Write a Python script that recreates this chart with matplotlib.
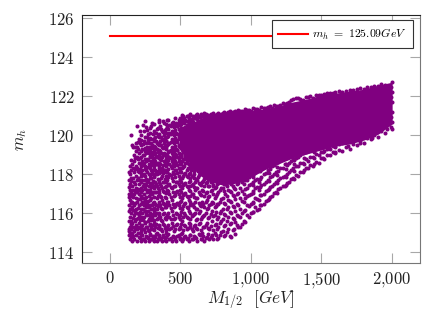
import numpy as np
import matplotlib
matplotlib.use('Agg')
import matplotlib.pyplot as plt

plt.rcParams['font.family'] = ['cmr10', 'DejaVu Serif']
plt.rcParams['mathtext.fontset'] = 'cm'
plt.rcParams['axes.formatter.use_mathtext'] = True

PURPLE = '#800080'

# reference line
line_x = [0, 2000]
line_y = [125.09, 125.09]

# saturated part of the cloud, read as lower / upper limit per M_1/2
core_x = [500, 540, 590, 640, 700, 800, 900, 1000, 1100, 1200, 1300, 1400, 1500, 1600, 1700, 1800, 1900, 1995]
core_lo = [119.3, 118.9, 118.4, 118.0, 117.7, 117.5, 117.6, 117.9, 118.3, 118.6, 118.9, 119.1, 119.3, 119.5, 119.6, 119.8, 120.1, 120.6]
core_hi = [119.9, 120.3, 120.6, 120.8, 120.95, 121.05, 121.1, 121.2, 121.3, 121.45, 121.65, 121.8, 122.0, 122.1, 122.2, 122.3, 122.5, 122.65]

# open part of the cloud, one list of m_h per M_1/2 column
cloud_x = [135, 145, 152, 160, 172, 185, 193, 205, 218, 230, 242, 252, 264, 275, 287, 299, 310, 322, 333, 345,
           358, 370, 382, 395, 407, 420, 441, 455, 470, 487, 500, 512, 528, 545, 560, 571, 590, 605, 620, 640,
           655, 670, 690, 705, 725, 745, 760, 780, 800, 820, 840, 860, 880, 900, 925, 950, 975, 1000, 1030, 1060,
           1090, 1120, 1150, 1180, 1210, 1240, 1270, 1300, 1335, 1370, 1405, 1440, 1480, 1520, 1560, 1600, 1650, 1700, 1750, 1800,
           1850, 1900, 1950, 2000]
cloud_y = [
    [114.9, 115.1, 116.4, 117.0, 117.7],
    [114.7, 115.0, 115.3, 115.8, 116.2, 116.7, 117.2, 117.5, 118.0, 118.4],
    [114.8, 115.2, 115.6, 116.0, 116.9, 117.8, 118.2, 120.0],
    [114.6, 115.0, 115.5, 116.3, 116.6, 117.4, 118.5, 119.5],
    [114.7, 115.1, 115.9, 116.4, 117.0, 117.6, 118.1, 118.7, 119.0],
    [114.9, 115.4, 115.7, 116.2, 116.8, 117.3, 117.9, 118.4, 119.2, 119.6],
    [114.6, 115.2, 116.0, 116.6, 117.1, 117.7, 118.3, 118.9, 119.4, 120.47],
    [114.8, 115.5, 115.9, 116.4, 117.0, 117.5, 118.1, 118.6, 119.1, 119.8],
    [114.6, 115.1, 115.7, 116.2, 116.9, 117.3, 117.9, 118.4, 118.9, 119.5, 120.0],
    [114.9, 115.4, 116.0, 116.6, 117.2, 117.7, 118.2, 118.7, 119.3],
    [114.7, 115.2, 115.8, 116.4, 117.0, 117.5, 118.0, 118.6, 119.0, 119.7, 120.2],
    [114.6, 115.5, 116.1, 116.7, 117.3, 117.9, 118.4, 119.2, 120.74],
    [114.8, 115.3, 115.9, 116.5, 117.1, 117.6, 118.1, 118.8, 119.4, 119.9, 120.27],
    [114.6, 115.1, 115.7, 116.3, 116.9, 117.4, 118.0, 118.5, 119.1, 119.6],
    [114.9, 115.4, 116.0, 116.7, 117.2, 117.8, 118.3, 118.9, 119.3, 119.8, 120.1],
    [114.7, 115.2, 115.8, 116.4, 117.0, 117.5, 118.1, 118.6, 119.0, 119.5, 120.6],
    [114.6, 115.5, 116.1, 116.6, 117.3, 117.9, 118.4, 118.8, 119.2, 119.7, 120.2],
    [114.8, 115.3, 115.9, 116.5, 117.1, 117.6, 118.2, 118.7, 119.1, 119.4, 119.9],
    [114.6, 115.0, 115.7, 116.2, 116.8, 117.4, 118.0, 118.5, 118.9, 119.3, 119.6, 120.3],
    [114.9, 115.4, 116.0, 116.6, 117.2, 117.7, 118.3, 118.6, 119.0, 119.5, 119.9, 120.8],
    [114.7, 115.2, 115.8, 116.4, 116.9, 117.5, 118.1, 118.5, 118.8, 119.2, 119.7, 120.47],
    [114.6, 115.1, 115.6, 116.2, 116.7, 117.3, 117.9, 118.3, 118.9, 119.4, 119.8, 120.2],
    [114.8, 115.4, 116.0, 116.5, 117.1, 117.6, 118.2, 118.7, 119.1, 119.6, 120.0, 120.6],
    [114.6, 115.0, 115.7, 116.3, 116.8, 117.4, 117.9, 118.4, 118.8, 119.3, 119.7, 120.3],
    [114.9, 115.3, 115.9, 116.6, 117.2, 117.7, 118.1, 118.6, 119.0, 119.5, 119.9, 120.4, 120.8],
    [114.7, 115.2, 115.8, 116.4, 117.0, 117.5, 118.0, 118.5, 118.9, 119.2, 119.6, 120.1, 120.5],
    [114.6, 115.5, 116.1, 116.7, 117.3, 117.8, 118.3, 118.7, 119.1, 119.4, 119.8, 120.2, 120.64],
    [114.8, 115.1, 115.7, 116.3, 116.9, 117.4, 118.0, 118.4, 118.8, 119.2, 119.6, 120.0, 120.4],
    [114.6, 115.4, 116.0, 116.5, 117.1, 117.6, 118.2, 118.6, 119.0, 119.3, 119.7, 120.1, 120.6],
    [114.9, 115.2, 115.8, 116.4, 117.0, 117.5, 117.9, 118.3, 118.7, 119.1, 119.5, 119.9, 120.3, 120.8],
    [114.7, 115.3, 115.9, 116.6, 117.2, 117.7, 118.1, 118.5, 118.9, 120.0, 120.5, 120.9],
    [114.6, 115.0, 115.6, 116.2, 116.8, 117.3, 117.8, 118.3, 118.7, 120.2, 120.7, 121.03],
    [114.8, 115.4, 116.0, 116.5, 117.0, 117.5, 118.0, 118.4, 118.8, 120.1, 120.6, 120.9],
    [114.7, 115.2, 115.8, 116.3, 116.9, 117.4, 117.9, 118.2, 120.5, 121.0],
    [114.6, 115.5, 116.1, 116.7, 117.2, 117.6, 118.0, 120.6, 120.9],
    [114.9, 115.3, 115.7, 116.4, 116.9, 117.4, 117.8, 120.8, 121.08],
    [114.7, 115.1, 115.9, 116.5, 117.0, 117.5, 117.9, 120.7, 121.0],
    [114.8, 115.4, 116.0, 116.6, 117.2, 117.6, 120.9],
    [114.6, 115.2, 115.7, 116.2, 116.8, 117.3, 117.7, 120.85, 121.1],
    [114.9, 115.5, 116.1, 116.4, 117.0, 117.5, 120.95],
    [114.7, 115.0, 115.8, 116.6, 117.2, 117.6, 121.0],
    [114.6, 115.3, 115.9, 116.3, 116.9, 117.4, 120.9, 121.15],
    [114.8, 115.5, 116.2, 116.7, 117.1, 117.6, 121.0],
    [114.7, 115.2, 115.8, 116.4, 116.9, 117.4, 120.95],
    [114.9, 115.6, 116.1, 116.6, 117.2, 117.6, 121.05],
    [115.0, 115.4, 115.9, 116.3, 116.8, 117.3, 121.0],
    [114.7, 115.2, 115.7, 116.5, 117.0, 117.5, 121.1],
    [114.9, 115.5, 116.0, 116.6, 117.2, 117.6, 121.05],
    [115.1, 115.7, 116.2, 116.8, 117.3, 117.6, 121.15],
    [114.9, 115.4, 115.9, 116.5, 117.0, 117.5, 121.1],
    [115.2, 115.8, 116.3, 116.7, 117.2, 117.6, 121.2],
    [114.8, 115.5, 116.0, 116.6, 117.1, 117.5, 121.15],
    [115.2, 115.7, 116.3, 116.9, 117.3, 117.7, 121.2],
    [115.4, 115.9, 116.5, 117.0, 117.5, 121.2],
    [115.3, 115.8, 116.2, 116.8, 117.3, 117.7, 121.25],
    [115.6, 116.1, 116.6, 117.0, 117.5, 121.2],
    [115.9, 116.4, 116.9, 117.3, 117.7, 121.3],
    [116.0, 116.5, 117.0, 117.5, 118.0, 121.25],
    [116.3, 116.8, 117.3, 117.7, 118.1, 121.35],
    [116.2, 116.7, 117.2, 117.6, 118.3, 121.3],
    [116.5, 117.0, 117.5, 118.0, 118.5, 121.4],
    [116.7, 117.2, 117.7, 118.2, 118.7, 121.45],
    [116.9, 117.4, 117.9, 118.4, 118.9, 121.4],
    [117.1, 117.6, 118.1, 118.6, 119.0, 121.5],
    [117.3, 117.8, 118.3, 118.8, 119.2, 121.55],
    [117.4, 117.9, 118.5, 119.0, 121.6],
    [117.6, 118.1, 118.6, 119.1, 121.7],
    [117.8, 118.3, 118.8, 119.3, 121.85],
    [117.9, 118.4, 118.9, 119.4, 121.9],
    [118.1, 118.6, 119.1, 119.5, 121.8],
    [118.3, 118.7, 119.2, 121.95],
    [118.4, 118.9, 119.3, 121.9],
    [118.6, 119.0, 119.5, 122.05],
    [118.8, 119.2, 119.5, 122.1],
    [119.0, 119.3, 119.6, 122.15],
    [119.1, 119.4, 122.2],
    [119.2, 119.6, 122.2],
    [119.3, 119.7, 122.3],
    [119.5, 119.9, 122.35],
    [119.6, 119.9, 122.35],
    [119.8, 120.1, 122.45],
    [119.9, 120.2, 122.5],
    [120.1, 120.5, 122.55],
    [120.3, 120.7, 121.2, 121.7, 122.2, 122.7],
]

# second pass over the same cloud, points that sit between the first columns
extra_x = [139, 149, 166, 178, 199, 211, 224, 236, 247, 258, 270, 281, 293, 304, 316, 327, 339, 351, 364, 376,
           389, 401, 414, 431, 448, 462, 478, 494, 506, 520, 536, 552, 566, 581, 598, 612, 630, 648, 662, 680,
           698, 715, 735, 752, 770, 790, 810, 830, 850, 870, 890, 912, 938, 962, 988, 1015, 1045, 1075, 1105, 1135,
           1165, 1195, 1225, 1255, 1285, 1318, 1352, 1388, 1422, 1460, 1500, 1540, 1580, 1625, 1675, 1725, 1775, 1825, 1875, 1925]
extra_y = [
    [115.22, 115.63, 116.13, 116.85, 117.37, 118.14],
    [114.88, 115.47, 116.52, 117.06, 117.66, 118.71],
    [114.82, 115.28, 115.74, 116.18, 116.83, 117.21, 117.83, 118.32, 119.37],
    [115.23, 115.58, 116.07, 116.55, 117.14, 117.48, 118.26, 118.84, 119.41],
    [114.97, 115.31, 115.78, 116.27, 116.71, 117.24, 117.83, 118.19, 118.77, 119.28, 119.65],
    [114.71, 115.24, 115.65, 116.09, 116.73, 117.17, 117.72, 118.29, 118.81, 119.62, 120.21],
    [114.92, 115.37, 115.83, 116.47, 117.09, 117.61, 118.06, 118.53, 119.18, 119.77],
    [114.67, 115.21, 115.66, 116.23, 116.79, 117.38, 117.98, 118.46, 118.97, 119.54, 120.52],
    [115.02, 115.53, 116.12, 116.58, 117.23, 117.69, 118.27, 118.76, 119.36, 119.93],
    [114.84, 115.28, 115.94, 116.33, 116.82, 117.44, 117.76, 118.21, 118.67, 119.08, 119.58, 120.41],
    [114.73, 115.16, 115.62, 116.14, 116.63, 117.18, 117.71, 118.37, 118.71, 119.26, 119.73, 120.06],
    [114.95, 115.43, 115.84, 116.42, 117.03, 117.56, 117.96, 118.44, 118.93, 119.42, 119.88, 120.38],
    [114.66, 115.27, 115.68, 116.21, 116.77, 117.33, 117.82, 118.22, 118.68, 119.13, 119.62, 120.46],
    [114.86, 115.38, 115.97, 116.52, 117.11, 117.63, 118.03, 118.47, 118.85, 119.36, 119.78, 120.05],
    [114.74, 115.15, 115.64, 116.28, 116.86, 117.41, 117.84, 118.28, 118.62, 119.03, 119.46, 119.83, 120.57],
    [114.93, 115.46, 116.04, 116.43, 117.07, 117.52, 118.07, 118.52, 118.94, 119.27, 119.68, 120.12],
    [114.68, 115.23, 115.76, 116.36, 116.91, 117.29, 117.74, 118.16, 118.57, 119.12, 119.55, 119.94, 120.37],
    [114.83, 115.36, 115.92, 116.47, 117.03, 117.58, 118.04, 118.42, 118.83, 119.23, 119.62, 120.08, 120.66],
    [114.72, 115.18, 115.67, 116.29, 116.84, 117.42, 117.83, 118.24, 118.72, 119.07, 119.52, 119.93, 120.33],
    [114.88, 115.44, 115.96, 116.53, 117.13, 117.59, 118.06, 118.48, 118.97, 119.33, 119.76, 120.17, 120.72],
    [114.65, 115.27, 115.74, 116.32, 116.86, 117.34, 117.77, 118.22, 118.63, 119.04, 119.44, 119.86, 120.26],
    [114.79, 115.14, 115.83, 116.44, 117.06, 117.61, 118.09, 118.53, 118.92, 119.37, 119.72, 120.13, 120.56],
    [114.94, 115.41, 116.02, 116.56, 117.16, 117.46, 117.86, 118.27, 118.74, 119.16, 119.57, 119.94, 120.34, 120.76],
    [114.71, 115.23, 115.69, 116.27, 116.83, 117.37, 117.96, 118.43, 118.84, 119.26, 119.66, 120.07, 120.46],
    [114.86, 115.37, 115.91, 116.47, 117.08, 117.63, 118.13, 118.57, 118.96, 119.35, 119.74, 120.16, 120.67],
    [114.67, 115.19, 115.78, 116.36, 116.94, 117.42, 117.86, 118.24, 118.66, 119.05, 119.47, 119.86, 120.27, 120.86],
    [114.83, 115.44, 115.96, 116.54, 117.14, 117.58, 118.05, 118.49, 118.86, 119.24, 119.64, 120.04, 120.47],
    [114.74, 115.26, 115.72, 116.29, 116.86, 117.39, 117.76, 118.17, 118.62, 118.98, 119.41, 119.83, 120.22, 120.71],
    [114.92, 115.47, 116.07, 116.63, 117.11, 117.62, 118.12, 118.54, 118.93, 119.58, 120.36, 120.83],
    [114.68, 115.16, 115.82, 116.37, 116.96, 117.46, 117.92, 118.37, 118.76, 119.31, 120.14, 120.96],
    [114.86, 115.33, 115.93, 116.53, 117.06, 117.57, 118.06, 118.56, 118.96, 120.27, 120.78],
    [114.72, 115.27, 115.74, 116.27, 116.84, 117.36, 117.84, 118.32, 120.43, 120.98],
    [114.91, 115.43, 116.02, 116.58, 117.14, 117.63, 118.08, 118.47, 120.62, 121.02],
    [114.66, 115.18, 115.84, 116.43, 116.97, 117.47, 117.93, 118.36, 120.76],
    [114.83, 115.36, 115.96, 116.34, 116.86, 117.34, 117.83, 118.18, 120.92],
    [114.75, 115.24, 115.67, 116.24, 116.76, 117.27, 117.74, 121.03],
    [114.93, 115.47, 116.03, 116.53, 117.07, 117.56, 117.97, 120.98],
    [114.68, 115.14, 115.73, 116.36, 116.94, 117.44, 121.06],
    [114.86, 115.32, 115.88, 116.47, 117.12, 117.64, 120.97],
    [114.72, 115.42, 116.04, 116.57, 117.03, 117.53, 121.1],
    [114.94, 115.26, 115.76, 116.28, 116.84, 117.38, 117.76, 121.02],
    [114.77, 115.33, 115.96, 116.46, 117.13, 117.62, 121.08],
    [114.66, 115.17, 115.86, 116.52, 116.97, 117.47, 121.12],
    [114.88, 115.45, 116.06, 116.36, 116.89, 117.36, 117.68, 121.04],
    [114.73, 115.29, 115.83, 116.46, 117.08, 117.57, 121.13],
    [115.03, 115.58, 116.14, 116.72, 117.27, 117.71, 121.09],
    [114.86, 115.34, 115.97, 116.54, 117.14, 117.52, 121.18],
    [115.06, 115.62, 116.23, 116.88, 117.38, 117.72, 121.14],
    [114.83, 115.47, 116.07, 116.62, 117.16, 117.62, 121.22],
    [115.13, 115.74, 116.37, 116.94, 117.42, 117.83, 121.19],
    [114.96, 115.56, 116.12, 116.73, 117.26, 117.68, 121.23],
    [115.28, 115.84, 116.44, 117.03, 117.56, 117.92, 121.27],
    [115.47, 116.03, 116.64, 117.14, 117.62, 118.03, 121.24],
    [115.56, 116.16, 116.76, 117.23, 117.73, 118.12, 121.32],
    [115.83, 116.36, 116.92, 117.44, 117.86, 118.27, 121.28],
    [116.07, 116.58, 117.12, 117.58, 117.96, 118.36, 121.37],
    [116.18, 116.74, 117.34, 117.78, 118.22, 118.56, 121.33],
    [116.42, 116.94, 117.44, 117.88, 118.34, 118.72, 121.42],
    [116.62, 117.13, 117.62, 118.07, 118.46, 118.83, 121.38],
    [116.84, 117.33, 117.84, 118.27, 118.66, 119.02, 121.47],
    [117.03, 117.52, 118.02, 118.47, 118.82, 119.13, 121.53],
    [117.23, 117.72, 118.17, 118.62, 118.97, 119.24, 121.5],
    [117.38, 117.87, 118.34, 118.77, 119.12, 121.63],
    [117.56, 118.02, 118.47, 118.92, 119.26, 121.66],
    [117.74, 118.23, 118.68, 119.07, 119.38, 121.8],
    [117.96, 118.42, 118.83, 119.23, 121.88],
    [118.13, 118.57, 118.96, 119.33, 121.84],
    [118.33, 118.76, 119.14, 119.47, 121.97],
    [118.48, 118.88, 119.26, 122.02],
    [118.63, 119.02, 119.37, 122.08],
    [118.83, 119.16, 119.47, 122.06],
    [118.97, 119.27, 119.56, 122.14],
    [119.12, 119.43, 122.17],
    [119.23, 119.56, 122.24],
    [119.41, 119.73, 122.28],
    [119.57, 119.84, 122.33],
    [119.68, 119.97, 122.41],
    [119.84, 120.16, 122.46],
    [120.03, 120.37, 122.52],
    [120.22, 120.58, 122.62],
]

# third pass, around the saturated part and along the lower right edge
gap_x = [452, 476, 492, 505, 518, 533, 548, 563, 578, 595, 625, 668, 728, 1012, 1068, 1128, 1188, 1248, 1308, 1376,
         1448, 1512, 1598, 1688, 1772, 1862, 1968, 1992]
gap_y = [
    [118.95, 119.65, 120.55],
    [119.25, 119.75, 120.45],
    [118.85, 119.45, 120.05, 120.65],
    [119.05, 119.95, 120.15, 118.95, 120.55],
    [119.2, 119.55, 119.85, 120.35, 120.85],
    [118.85, 119.15, 119.5, 120.0, 120.4],
    [118.6, 118.75, 120.45, 120.75],
    [118.3, 118.55, 118.8, 120.5, 120.7],
    [118.2, 118.5, 120.65, 120.85],
    [118.0, 118.3, 120.9],
    [117.85, 118.15, 120.95],
    [117.75, 117.95, 121.02],
    [117.42, 117.66, 121.08],
    [116.05, 116.55, 117.05, 117.45, 117.88],
    [116.45, 116.95, 117.35, 117.75, 118.15],
    [116.75, 117.25, 117.65, 118.05, 118.4],
    [117.05, 117.55, 117.95, 118.35, 118.65],
    [117.45, 117.85, 118.25, 118.55, 118.85],
    [117.75, 118.15, 118.5, 118.75, 119.05],
    [118.2, 118.55, 118.85, 119.15],
    [118.55, 118.85, 119.15, 119.35],
    [118.85, 119.15, 119.42],
    [119.15, 119.45],
    [119.45, 119.68],
    [119.62, 119.88],
    [119.88, 120.12],
    [120.32, 120.62, 121.45],
    [120.42, 120.95, 121.95, 122.45],
]

xticks = [0, 500, 1000, 1500, 2000]
xtick_labels = ['$0$', '$500$', '$1{,}000$', '$1{,}500$', '$2{,}000$']
yticks = [114, 116, 118, 120, 122, 124, 126]

fig = plt.figure(figsize=(4.30, 3.22), dpi=100)
ax = fig.add_axes([81.7 / 430, 59.3 / 322, 338.3 / 430, 247.4 / 322])

points_x = np.concatenate([np.repeat(cloud_x, [len(col) for col in cloud_y]),
                           np.repeat(extra_x, [len(col) for col in extra_y]),
                           np.repeat(gap_x, [len(col) for col in gap_y])])
points_y = np.concatenate(cloud_y + extra_y + gap_y)

ax.fill_between(core_x, core_lo, core_hi, color=PURPLE, lw=1.5, zorder=2)
ax.scatter(points_x, points_y, s=8.5, color=PURPLE, linewidths=0, zorder=2)
ax.plot(line_x, line_y, color='red', lw=1.5, zorder=3, label=r'$m_h\ =\ 125.09 GeV\ \ $')

ax.set_xlim(-200, 2200)
ax.set_ylim(113.47, 126.14)
ax.set_xticks(xticks)
ax.set_xticklabels(xtick_labels)
ax.set_yticks(yticks)
ax.set_yticklabels([f'${t}$' for t in yticks])
ax.tick_params(direction='in', length=7, width=0.8, color='#a8a8a8', top=True, right=True,
               labelsize=12, labelcolor='#222222', pad=5)
for side in ['left', 'top']:
    ax.spines[side].set_color('#222222')
for side in ['right', 'bottom']:
    ax.spines[side].set_color('#777777')

ax.set_xlabel(r'$M_{1/2}\ \ [GeV]$', fontsize=12.5, labelpad=-1, color='#222222')
ax.set_ylabel(r'$m_h$', fontsize=12, labelpad=14, color='#222222')

leg = ax.legend(loc='upper right', bbox_to_anchor=(0.979, 0.979), fontsize=8.5, fancybox=False,
                framealpha=1, edgecolor='#333333', borderaxespad=0, handlelength=2.55,
                borderpad=0.55, handletextpad=0.3)
leg.get_frame().set_linewidth(0.8)

fig.savefig('out.png', dpi=100)
